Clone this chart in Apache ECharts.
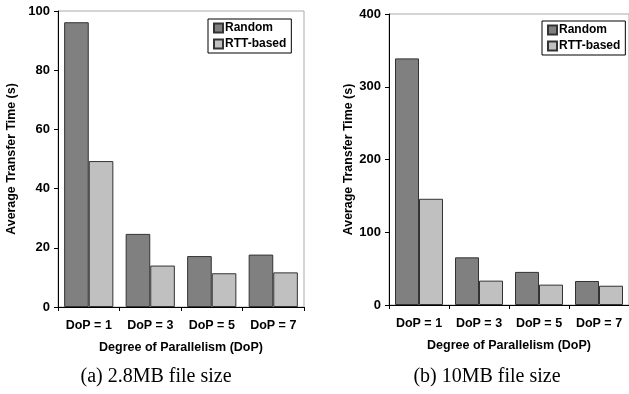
<!DOCTYPE html>
<html>
<head>
<meta charset="utf-8">
<script src="https://cdn.jsdelivr.net/npm/echarts@6/dist/echarts.min.js"></script>
<style>
  html, body { margin: 0; padding: 0; background: #fff; }
  #main { width: 629px; height: 394px; }
</style>
</head>
<body>
<div id="main"></div>
<script>
// data
var categories = ['DoP = 1', 'DoP = 3', 'DoP = 5', 'DoP = 7'];
var smallRandom = [96.2, 24.7, 17.2, 17.7];
var smallRtt = [49.3, 14.0, 11.4, 11.7];
var bigRandom = [339, 65.5, 45.5, 33];
var bigRtt = [146, 33.5, 28, 26.5];

var myChart = echarts.init(document.getElementById('main'));
var font = 'Liberation Sans, Arial, sans-serif';

function xAx(i) {
    return {
        type: 'category',
        gridIndex: i,
        data: categories,
        axisLine: { lineStyle: { color: '#000', width: 1 } },
        axisTick: { show: true, length: 4, lineStyle: { color: '#000' } },
        axisLabel: { interval: 0, color: '#000', fontFamily: font, fontWeight: 'bold', fontSize: 12.5, margin: 12 },
        name: 'Degree of Parallelism (DoP)',
        nameLocation: 'middle',
        nameGap: 34,
        nameTextStyle: { color: '#000', fontFamily: font, fontWeight: 'bold', fontSize: 12.5 }
    };
}

function yAx(i, max, step, gap) {
    return {
        type: 'value',
        gridIndex: i,
        min: 0,
        max: max,
        interval: step,
        axisLine: { show: true, lineStyle: { color: '#000', width: 1 } },
        axisTick: { show: true, length: 4, lineStyle: { color: '#000' } },
        splitLine: { show: false },
        axisLabel: { color: '#000', fontFamily: font, fontWeight: 'bold', fontSize: 13, margin: 8 },
        name: 'Average Transfer Time (s)',
        nameLocation: 'middle',
        nameRotate: 90,
        nameGap: gap,
        nameTextStyle: { color: '#000', fontFamily: font, fontWeight: 'bold', fontSize: 12.4 }
    };
}

function legend(i, left, top) {
    return {
        data: ['Random', 'RTT-based'],
        orient: 'vertical',
        left: left,
        top: top,
        itemWidth: 9,
        itemHeight: 9,
        itemGap: 4,
        padding: [3, 5, 3, 5],
        borderColor: '#000',
        borderWidth: 1,
        backgroundColor: '#fff',
        icon: 'rect',
        textStyle: { color: '#000', fontFamily: font, fontWeight: 'bold', fontSize: 12, padding: [0, 0, 0, -3] }
    };
}

function bar(name, i, data, color) {
    return {
        name: name,
        type: 'bar',
        xAxisIndex: i,
        yAxisIndex: i,
        data: data,
        barGap: '0%',
        barCategoryGap: '20%',
        itemStyle: { color: color, borderColor: '#333', borderWidth: 1 },
        emphasis: { disabled: true }
    };
}

option = {
    animation: false,
    grid: [
        { left: 58, top: 11, width: 246, bottom: 87, show: true, borderColor: '#aaa', borderWidth: 1 },
        { left: 389, top: 14, right: -6, bottom: 89, show: true, borderColor: '#aaa', borderWidth: 1 }
    ],
    xAxis: [xAx(0), xAx(1)],
    yAxis: [yAx(0, 100, 20, 40), yAx(1, 400, 100, 34)],
    legend: [legend(0, 208, 19), legend(1, 542, 21)],
    series: [
        bar('Random', 0, smallRandom, '#808080'),
        bar('RTT-based', 0, smallRtt, '#c0c0c0'),
        bar('Random', 1, bigRandom, '#808080'),
        bar('RTT-based', 1, bigRtt, '#c0c0c0')
    ],
    graphic: [
        { type: 'text', x: 156, y: 377, style: { text: '(a) 2.8MB file size', align: 'center', verticalAlign: 'middle',
            font: '20px "Liberation Serif", "Times New Roman", serif', fill: '#000' } },
        { type: 'text', x: 487, y: 377, style: { text: '(b) 10MB file size', align: 'center', verticalAlign: 'middle',
            font: '20px "Liberation Serif", "Times New Roman", serif', fill: '#000' } }
    ]
};

myChart.setOption(option);
</script>
</body>
</html>
